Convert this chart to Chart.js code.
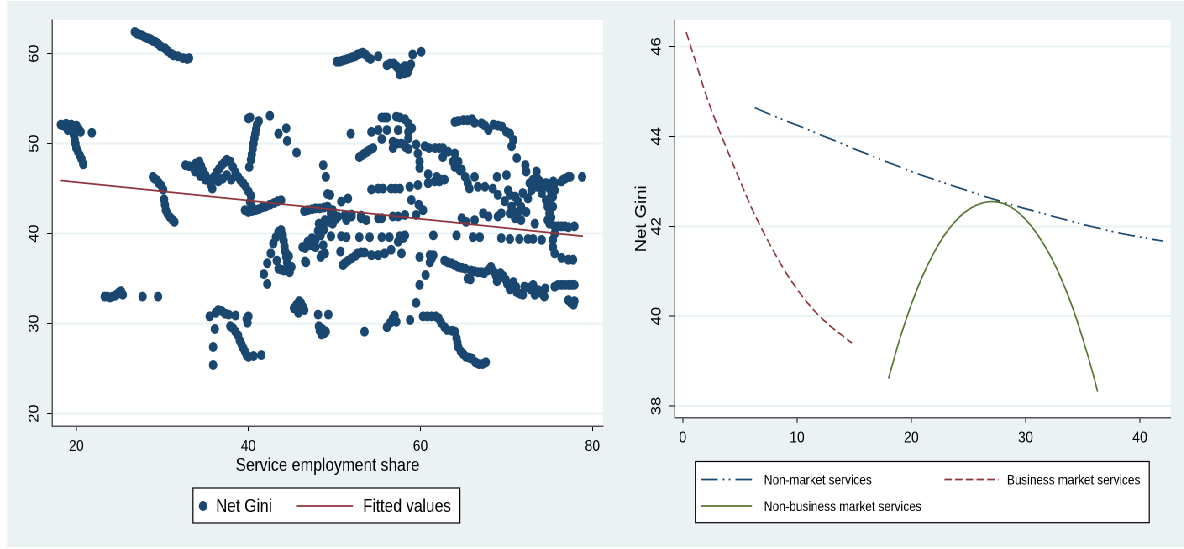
<!DOCTYPE html>
<html>
<head>
<meta charset="utf-8">
<script src="https://cdn.jsdelivr.net/npm/chart.js@4.4.0/dist/chart.umd.min.js"></script>
<style>
  html, body { margin: 0; padding: 0; background: #fff; }
  body { width: 1184px; height: 549px; overflow: hidden; position: relative; }
  /* Stata export is squeezed horizontally, so draw wide and squeeze */
  #wrap { position: absolute; left: 0; top: 0; width: 1410px; height: 549px; transform: scaleX(0.84); transform-origin: 0 0; }
  #bg { position: absolute; left: 8px; top: 1px; width: 1402px; height: 546px; background: #eaf2f3; }
  #left { position: absolute; left: 0; top: 0; }
  #right { position: absolute; left: 740px; top: 0; }
</style>
</head>
<body>
<div id="wrap">
  <div id="bg"></div>
  <canvas id="left" width="740" height="549"></canvas>
  <canvas id="right" width="670" height="549"></canvas>
</div>
<script>
// ---- left panel: Net Gini vs service employment share
var netGini = [
  // top left run
  [26.8,62.4],[27.1,62.2],[27.4,62.1],[27.7,62.0],[28.0,61.8],[28.3,61.7],[28.6,61.6],[28.9,61.4],[29.2,61.3],[29.5,61.1],
  [29.8,60.8],[30.3,60.6],[30.6,60.3],[31.0,60.0],[31.3,59.8],[31.8,59.7],[32.4,59.5],[32.9,59.4],[33.1,59.5],
  // far left
  [18.2,52.1],[18.5,52.0],[18.8,52.2],[19.1,52.0],[19.4,52.1],[19.7,51.9],[20.0,52.0],[20.3,51.6],[20.5,51.3],[19.6,51.8],
  [19.2,51.6],[19.0,51.5],[19.7,51.0],[19.8,50.5],[19.9,50.0],[20.0,49.5],[20.2,49.1],[20.4,48.7],[20.6,48.3],[20.8,47.7],[21.8,51.2],
  [28.9,46.3],[29.1,46.1],[29.4,45.9],[29.6,45.6],[29.9,45.3],[30.1,44.9],[30.2,43.8],[30.3,43.2],[30.4,42.6],[30.6,42.2],
  [30.9,41.8],[31.2,41.5],[31.4,41.3],
  [32.7,47.6],[33.1,47.5],[33.5,47.4],[33.9,47.8],[34.3,48.0],[34.5,47.5],[34.7,47.0],[35.0,46.5],[35.3,46.0],[35.6,45.5],
  [35.8,45.0],[34.2,47.2],[33.8,46.9],[34.4,46.4],[35.0,46.0],[35.5,46.0],[36.0,46.3],[36.3,46.8],[36.6,47.2],[36.9,47.6],
  [37.2,47.9],[37.5,48.2],[37.9,48.0],[38.2,47.4],[38.5,46.8],[38.8,46.3],[39.1,45.9],[39.4,45.6],[39.7,45.2],[40.0,44.7],
  [40.3,44.2],[36.5,45.8],[37.0,46.1],[37.5,46.5],[38.0,46.0],
  [40.1,47.4],[40.3,48.2],[40.4,48.8],[40.5,49.4],[40.6,50.0],[40.7,50.6],[40.8,51.1],[40.9,51.6],[41.0,52.1],[41.2,52.5],
  [40.0,52.8],[40.2,52.9],[42.5,53.1],[43.5,51.1],[44.4,51.7],[44.5,50.3],[45.6,49.0],
  [39.6,42.6],[40.0,42.4],[40.4,42.5],[40.8,42.6],[41.2,42.7],[41.6,42.9],[42.0,43.0],[42.5,43.2],[43.0,43.4],[43.4,43.6],
  [43.8,43.7],[40.2,43.5],[40.4,43.0],
  [46.5,42.5],[46.9,42.6],[47.4,42.7],[47.8,42.8],[48.3,42.8],[48.8,42.9],[49.2,43.0],[49.8,42.6],
  [48.7,47.6],[49.0,46.3],[49.2,44.4],[49.5,44.3],
  // top middle
  [50.3,59.1],[50.6,59.1],[50.9,59.2],[51.2,59.3],[51.5,59.4],[51.8,59.5],[52.1,59.6],[52.4,59.7],[52.7,59.9],[53.0,60.0],
  [53.3,60.1],[53.6,59.9],[53.9,59.6],[54.2,59.4],[55.1,59.7],[56.1,58.7],[56.5,58.9],[56.9,58.9],[57.2,58.6],[57.5,58.2],
  [57.7,57.8],[57.9,58.4],[58.1,57.8],[58.3,58.2],[58.5,57.9],[58.7,58.4],[58.9,58.8],[59.1,59.9],[60.1,60.2],[57.6,57.7],[58.2,58.6],
  // middle upper
  [55.5,52.9],[55.8,52.9],[56.1,52.9],[57.2,53.0],[57.6,52.9],[58.2,52.7],[58.6,52.2],[59.0,51.7],[54.3,51.3],[55.1,51.5],
  [56.1,51.5],[57.4,51.5],[55.5,50.5],[58.6,51.3],[51.9,51.1],[56.8,50.2],[56.8,49.5],[57.3,50.0],[57.8,50.0],[58.3,49.6],
  [58.6,49.4],[58.6,50.6],[59.5,49.9],[59.7,48.9],[59.9,48.0],[59.9,47.3],[60.5,49.7],[61.0,49.5],[61.7,49.5],[62.2,49.5],
  [62.6,49.5],[63.2,49.1],[64.0,48.9],[62.6,48.5],[63.8,48.0],[64.0,47.4],[64.6,47.0],[60.9,46.6],[60.9,45.6],[61.9,46.3],
  [62.2,45.8],[62.8,46.0],[52.9,48.5],[53.2,48.7],[53.5,48.9],[53.8,49.1],[54.1,49.3],[54.5,49.5],
  [64.4,48.0],[64.8,47.1],[65.2,46.3],[65.5,45.6],[65.7,45.0],[66.3,46.3],[66.7,45.2],[67.5,45.2],[68.4,45.0],
  // upper right
  [64.0,52.4],[64.4,52.5],[65.0,52.6],[65.5,52.6],[66.0,52.7],[66.3,52.3],[67.1,52.25],[67.5,52.0],[67.9,51.5],[68.5,52.1],
  [69.0,52.0],[69.45,51.9],[70.0,51.3],[70.4,51.1],[70.8,50.4],[70.6,49.7],[71.2,48.4],[72.2,47.6],[72.3,46.9],[73.5,46.9],
  [73.6,46.1],[68.9,46.3],[70.0,46.5],
  [69.0,44.3],[69.8,43.6],[70.2,44.8],[70.4,44.3],[71.0,44.1],[71.35,43.55],[71.7,43.0],[71.9,44.5],[72.5,43.9],[72.7,45.6],
  [72.9,44.8],[73.3,46.0],[73.5,45.2],[73.9,45.6],[74.3,45.2],[74.6,45.6],[75.0,45.0],[75.6,45.6],[76.4,45.8],[76.8,46.1],
  [77.2,46.3],[78.8,46.3],[70.6,43.0],[71.35,42.4],[70.8,42.4],[72.3,42.4],[74.1,44.5],[74.6,43.7],[74.8,43.0],[73.1,46.0],
  [73.9,45.8],[75.45,45.8],[76.6,46.0],[77.4,46.3],[75.2,44.2],[75.4,43.0],[75.2,41.8],
  [64.8,41.7],[65.3,41.3],[66.3,41.5],[67.3,42.25],[67.9,41.9],[69.0,41.9],[69.4,42.25],[70.4,42.25],[71.0,41.7],[71.7,41.5],
  [73.3,41.1],[74.8,41.5],[75.0,42.25],[75.2,43.2],[75.4,44.1],[75.6,44.8],[76.0,40.8],[76.8,40.8],[77.9,40.8],[75.0,41.1],
  [75.6,40.8],[76.4,40.8],[77.2,40.7],
  [75.6,40.0],[75.4,39.3],[75.4,38.5],[75.6,37.8],[76.4,37.3],[77.2,37.1],[77.75,37.1],
  // middle rows
  [54.3,44.9],[55.65,45.0],[56.6,45.0],[57.6,45.0],[58.75,45.2],[59.7,45.4],[60.9,45.6],[61.66,45.8],[62.4,46.0],[55.1,45.0],[57.1,45.0],
  [49.6,42.25],[50.8,43.55],[51.58,43.9],[50.4,41.88],[51.4,41.5],[52.0,41.9],[53.1,41.7],[53.7,41.5],[55.1,41.7],[55.5,41.7],
  [56.8,41.9],[57.4,41.9],[58.2,42.07],[59.5,42.07],[58.95,43.73],[59.8,43.2],[60.3,42.6],[49.45,41.5],[49.8,42.4],
  [49.6,39.7],[50.8,39.7],[51.4,39.6],[52.9,39.6],[54.1,39.6],[55.5,39.6],[56.4,39.6],[57.6,39.7],[58.2,39.8],[61.5,39.8],
  [64.2,39.8],[66.1,39.6],[66.9,39.6],[69.4,39.5],[70.4,39.4],[71.5,39.4],[72.5,39.4],[73.1,39.4],[74.1,39.3],
  [51.0,36.5],[51.2,36.7],[51.6,37.0],[52.0,37.25],[52.4,37.5],[52.7,37.8],[53.1,37.9],[53.5,37.9],[54.3,37.6],[55.1,37.6],
  [55.85,37.8],[56.6,38.2],[57.4,39.1],[57.8,37.8],[59.9,37.4],[61.1,37.6],[50.7,38.0],[58.0,39.5],
  [46.3,38.5],[46.7,36.8],[46.9,39.1],[47.4,39.5],[48.1,40.3],[48.7,40.7],[49.4,41.3],[48.5,37.6],[48.7,38.7],[49.8,41.1],
  [50.2,41.65],[51.2,42.0],[52.0,42.1],[53.1,42.0],[46.6,38.4],[47.2,38.7],[47.8,39.3],[48.4,39.8],[48.75,40.4],[46.6,36.9],
  [48.4,37.4],[48.9,37.8],[47.8,38.5],[48.2,41.1],[48.9,41.5],
  [41.8,35.5],[42.2,34.4],[42.2,36.7],[42.6,37.8],[42.9,38.9],[43.2,39.6],[43.5,40.2],[43.8,40.4],[44.0,39.8],[44.1,39.2],
  [44.2,38.6],[44.3,38.0],[44.4,37.4],[44.5,36.8],[44.6,36.2],[43.5,36.1],[43.8,36.0],[44.1,35.9],[45.0,36.3],[44.8,35.7],
  [43.3,37.0],[44.7,37.5],
  // lower part
  [23.3,33.0],[23.6,33.0],[23.9,32.9],[24.2,33.0],[24.5,33.1],[24.8,33.3],[25.0,33.5],[25.2,33.6],[25.4,33.2],[27.7,33.0],[29.5,33.0],
  [35.5,30.8],[36.1,29.4],[35.9,27.4],[35.9,25.4],[36.2,31.2],[36.5,31.5],[36.9,31.4],[37.3,31.1],[37.7,31.0],[38.5,30.9],
  [39.8,30.5],[39.9,30.1],[40.0,30.8],[37.9,29.7],[38.2,29.5],[38.5,29.1],[38.8,28.7],[39.0,28.1],[39.2,27.7],[39.4,27.3],
  [39.6,26.9],[39.8,26.5],[40.0,26.3],[40.6,26.4],[41.5,26.5],
  [45.3,31.7],[45.6,32.1],[45.9,32.5],[46.1,32.3],[46.3,31.9],[46.5,31.5],[45.8,31.2],
  [48.1,31.0],[49.3,31.0],[48.2,29.7],[48.3,29.2],[48.5,28.8],[48.8,28.9],[49.0,29.1],[48.6,29.4],
  [53.5,29.1],
  [56.1,29.6],[56.5,30.1],[56.8,30.6],[57.0,30.9],[57.2,30.2],[58.8,30.4],
  [59.5,32.3],[59.9,34.3],[60.6,35.4],[61.1,36.8],[61.5,37.6],[61.3,37.2],[60.3,30.8],[60.8,30.8],[61.3,30.8],[61.8,30.8],
  [62.1,30.6],[62.4,30.1],[62.8,29.6],[63.1,29.3],[63.7,29.2],[64.0,29.1],[64.2,28.4],[64.3,27.9],[64.4,27.4],[64.7,26.9],
  [65.0,26.6],[65.3,26.3],[65.7,26.2],[66.0,26.1],[66.4,25.7],[66.8,25.5],[67.2,25.5],[67.6,25.7],
  [62.8,37.0],[63.2,36.8],[63.6,36.7],[64.0,36.5],[64.4,36.3],[64.8,36.2],[65.2,36.1],[65.5,35.0],[65.8,34.9],[65.9,35.9],
  [66.3,35.8],[66.7,35.7],[67.1,35.7],[67.4,35.6],[67.8,35.9],[68.2,36.3],[68.5,35.8],[68.8,35.3],[68.9,34.7],[69.3,35.6],
  [69.6,35.3],[69.9,34.9],[70.1,34.4],[70.4,33.8],[70.8,34.6],[71.1,34.1],[71.2,33.5],[71.6,33.3],[71.9,33.2],[72.1,34.1],
  [72.5,34.0],[72.8,33.8],[73.1,34.3],[73.3,33.2],[73.7,33.7],[74.0,33.4],[74.4,33.0],[74.5,33.9],[75.6,34.1],[76.0,34.3],
  [76.4,34.3],[76.8,34.3],[77.2,34.3],[77.6,34.3],[77.9,34.3],[77.2,32.6],[77.5,32.3],[77.8,32.1],[77.9,32.5]
];
var fittedX = [18.2, 78.9];
var fittedY = [45.9, 39.7];
var leftXTicks = [20, 40, 60, 80];
var leftYTicks = [20, 30, 40, 50, 60];

// ---- right panel: fitted Net Gini by sector share
var nonMarketX = [6.3, 8, 10, 12, 14, 16, 18, 20, 22, 24, 26, 28, 30, 32, 34, 36, 38, 40, 42];
var nonMarketY = [44.64, 44.45, 44.25, 44.04, 43.83, 43.62, 43.42, 43.22, 43.04, 42.87, 42.70, 42.54, 42.39, 42.25, 42.11, 41.98, 41.86, 41.76, 41.67];
var businessX = [0.3, 1, 2, 3, 4, 5, 6, 7, 8, 9, 10, 11, 12, 13, 14, 14.8];
var businessY = [46.32, 45.76, 44.95, 44.26, 43.63, 43.02, 42.42, 41.9, 41.42, 40.98, 40.6, 40.27, 39.99, 39.76, 39.56, 39.4];
var nonBusinessX = [18, 19, 20, 21, 22, 23, 24, 25, 26, 27, 28, 29, 30, 31, 32, 33, 34, 35, 36, 36.3];
var nonBusinessY = [38.61, 39.5, 40.26, 40.9, 41.42, 41.84, 42.15, 42.37, 42.5, 42.55, 42.51, 42.38, 42.15, 41.83, 41.42, 40.9, 40.27, 39.5, 38.62, 38.32];
var rightXTicks = [0, 10, 20, 30, 40];
var rightYTicks = [38, 40, 42, 44, 46];

var navy = '#1a476f';
var maroon = '#90353b';
var olive = '#55752f';

Chart.defaults.font.family = '"Liberation Sans", Arial, sans-serif';
Chart.defaults.color = '#000';

function pairs(xs, ys) {
    return xs.map(function(x, i) { return {x: x, y: ys[i]}; });
}

function fixTicks(list) {
    return function(scale) {
        scale.ticks = list.map(function(v) { return {value: v}; });
    };
}

var plotBg = {
    id: 'plotBg',
    beforeDraw: function(chart) {
        var a = chart.chartArea;
        var ctx = chart.ctx;
        ctx.save();
        ctx.fillStyle = '#fff';
        ctx.fillRect(a.left, a.top, a.right - a.left, a.bottom - a.top);
        ctx.restore();
    }
};

// boxed legend like Stata's
var boxLegend = {
    id: 'boxLegend',
    afterDraw: function(chart, args, opts) {
        var ctx = chart.ctx;
        var b = opts.box;
        ctx.save();
        ctx.fillStyle = '#fff';
        ctx.fillRect(b[0], b[1], b[2], b[3]);
        ctx.strokeStyle = '#000';
        ctx.lineWidth = 1.2;
        ctx.strokeRect(b[0], b[1], b[2], b[3]);
        ctx.font = opts.font;
        ctx.textBaseline = 'middle';
        ctx.textAlign = 'left';
        opts.items.forEach(function(it) {
            var ds = chart.data.datasets[it.ds];
            if (it.dot) {
                ctx.fillStyle = ds.backgroundColor;
                ctx.beginPath();
                ctx.arc(it.x0, it.y, ds.pointRadius, 0, Math.PI * 2);
                ctx.fill();
            } else {
                ctx.strokeStyle = ds.borderColor;
                ctx.lineWidth = ds.borderWidth;
                ctx.setLineDash(ds.borderDash || []);
                ctx.beginPath();
                ctx.moveTo(it.x0, it.y);
                ctx.lineTo(it.x1, it.y);
                ctx.stroke();
                ctx.setLineDash([]);
            }
            ctx.fillStyle = '#000';
            ctx.fillText(ds.label, it.tx, it.y + 1);
        });
        ctx.restore();
    }
};

function yAxis(min, max, ticks, width, title) {
    return {
        type: 'linear',
        min: min, max: max,
        afterBuildTicks: fixTicks(ticks),
        afterFit: function(scale) { scale.width = width; },
        border: {display: true, color: '#555', width: 1.5},
        grid: {color: '#eaf2f3', lineWidth: 2, tickColor: '#000', tickLength: 6, tickWidth: 1},
        ticks: {minRotation: 90, maxRotation: 90, crossAlign: 'center', padding: 6, font: {size: 16.5}},
        title: title ? {display: true, text: title, font: {size: 18.5}, padding: 0} : {display: false}
    };
}

function xAxis(min, max, ticks, height, title) {
    return {
        type: 'linear',
        min: min, max: max,
        afterBuildTicks: fixTicks(ticks),
        afterFit: function(scale) { scale.height = height; },
        border: {display: true, color: '#555', width: 1.5},
        grid: {drawOnChartArea: false, tickColor: '#000', tickLength: 5, tickWidth: 1},
        ticks: {maxRotation: 0, minRotation: 0, padding: 6, font: {size: 16}},
        title: title ? {display: true, text: title, font: {size: 18.5}, padding: 0} : {display: false}
    };
}

var chartLeft = new Chart(document.getElementById('left'), {
    type: 'scatter',
    data: {
        datasets: [{
            label: 'Fitted values',
            type: 'line',
            data: pairs(fittedX, fittedY),
            borderColor: maroon,
            borderWidth: 1.8,
            pointRadius: 0,
            order: 0
        }, {
            label: 'Net Gini',
            data: netGini.map(function(p) { return {x: p[0], y: p[1]}; }),
            backgroundColor: navy,
            borderColor: navy,
            borderWidth: 0,
            pointRadius: 5,
            order: 1
        }]
    },
    options: {
        responsive: false,
        devicePixelRatio: 2,
        animation: false,
        layout: {padding: {left: 8, top: 20, right: 22.1, bottom: 71.9}},
        scales: {
            x: xAxis(17.19, 81.23, leftXTicks, 51.1, 'Service employment share'),
            y: yAxis(18.62, 63.73, leftYTicks, 54.1, null)
        },
        plugins: {
            legend: {display: false},
            tooltip: {enabled: false},
            boxLegend: {
                box: [229.8, 488, 317.8, 35],
                font: '18.5px "Liberation Sans", Arial, sans-serif',
                items: [
                    {ds: 1, dot: true, x0: 241.7, y: 506, tx: 257.1},
                    {ds: 0, x0: 352.4, x1: 420.2, y: 506, tx: 432.1}
                ]
            }
        }
    },
    plugins: [plotBg, boxLegend]
});

var chartRight = new Chart(document.getElementById('right'), {
    type: 'scatter',
    data: {
        datasets: [{
            label: 'Non-market services',
            type: 'line',
            data: pairs(nonMarketX, nonMarketY),
            borderColor: navy,
            borderWidth: 1.7,
            borderDash: [20, 6, 2, 5, 2, 6],
            pointRadius: 0,
            cubicInterpolationMode: 'monotone'
        }, {
            label: 'Business market services',
            type: 'line',
            data: pairs(businessX, businessY),
            borderColor: maroon,
            borderWidth: 1.7,
            borderDash: [8.7, 4],
            pointRadius: 0,
            cubicInterpolationMode: 'monotone'
        }, {
            label: 'Non-business market services',
            type: 'line',
            data: pairs(nonBusinessX, nonBusinessY),
            borderColor: olive,
            borderWidth: 1.7,
            pointRadius: 0,
            cubicInterpolationMode: 'monotone'
        }]
    },
    options: {
        responsive: false,
        devicePixelRatio: 2,
        animation: false,
        layout: {padding: {left: 12.6, top: 20, right: 16.4, bottom: 91.3}},
        scales: {
            x: xAxis(-0.72, 42.69, rightXTicks, 40, null),
            y: yAxis(37.74, 46.59, rightYTicks, 50.4, 'Net Gini')
        },
        plugins: {
            legend: {display: false},
            tooltip: {enabled: false},
            boxLegend: {
                box: [87.7, 461.5, 540.5, 61.2],
                font: '14px "Liberation Sans", Arial, sans-serif',
                items: [
                    {ds: 0, x0: 94.5, x1: 155.2, y: 479.5, tx: 169.5},
                    {ds: 1, x0: 384.4, x1: 448.7, y: 479.5, tx: 458.8},
                    {ds: 2, x0: 94.5, x1: 155.2, y: 506, tx: 169.5}
                ]
            }
        }
    },
    plugins: [plotBg, boxLegend]
});
</script>
</body>
</html>
